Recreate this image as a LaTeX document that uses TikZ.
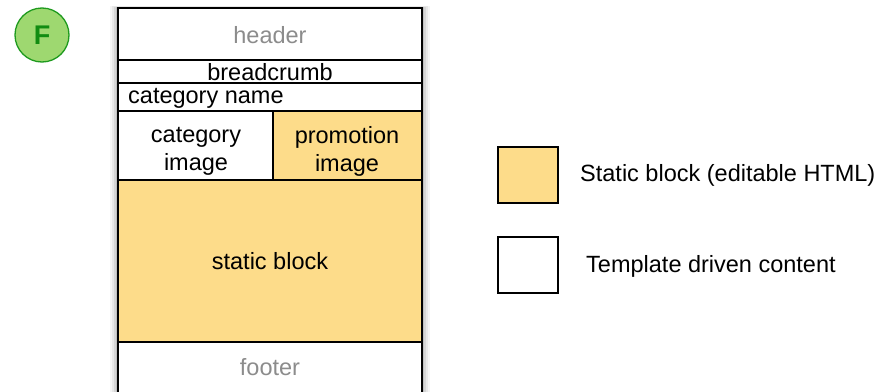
\documentclass[tikz,border=0pt]{standalone}
\usepackage{fontspec}
\setmainfont{Liberation Sans}
\definecolor{staticfill}{HTML}{FDDC8A}
\definecolor{graytext}{HTML}{8C8C8C}
\definecolor{badgefill}{HTML}{9ED870}
\definecolor{badgeline}{HTML}{1E9A1E}
\definecolor{badgetext}{HTML}{128C12}
\begin{document}
\begin{tikzpicture}[x=1pt,y=-1pt,
  box/.style={draw=black, line width=1.6pt, anchor=north west, inner sep=0pt, outer sep=0pt},
  tmpl/.style={box, fill=white},
  stat/.style={box, fill=staticfill},
  lbl/.style={font=\fontsize{23.5}{28}\selectfont, inner sep=0pt, align=center},
  legbox/.style={draw=black, line width=1.6pt, minimum width=60pt, minimum height=56pt, anchor=north west, inner sep=0pt}]
\useasboundingbox (0,0) rectangle (885,391);
% soft shadow of the page frame
\foreach \s/\o in {8/0.04,6/0.06,4/0.08,2/0.10}{
  \fill[black, opacity=\o] (118-\s,8-\s*0.3) rectangle (422+\s,400);
}
\node[tmpl, minimum width=304pt, minimum height=52pt] (header) at (118,8) {};
\node[lbl, text=graytext] (headertxt) at (270,35) {header};
\node[tmpl, minimum width=304pt, minimum height=23pt] (crumb) at (118,60) {};
\node[lbl] (crumbtxt) at (270,72) {breadcrumb};
\node[tmpl, minimum width=304pt, minimum height=28pt] (catname) at (118,83) {};
\node[lbl, anchor=west] (catnametxt) at (128,98) {category name};
\node[tmpl, minimum width=155pt, minimum height=69pt] (catimg) at (118,111) {};
\node[lbl] (catimgtxt) at (196,151.5) {category\\image};
\node[stat, minimum width=149pt, minimum height=69pt] (promo) at (273,111) {};
\node[lbl] (promotxt) at (347,151.5) {promotion\\image};
\node[stat, minimum width=304pt, minimum height=162pt] (static) at (118,180) {};
\node[lbl] (statictxt) at (270,261) {static block};
\node[tmpl, minimum width=304pt, minimum height=60pt] (footer) at (118,342) {};
\node[lbl, text=graytext] (footertxt) at (270,367) {footer};
% badge
\node[circle, draw=badgeline, fill=badgefill, line width=1.3pt, minimum size=54pt, inner sep=0pt,
      text=badgetext, font=\bfseries\fontsize{27}{27}\selectfont] (badge) at (42,35) {F};
% legend
\node[legbox, fill=staticfill] (legstatic) at (497,146) {};
\node[lbl, anchor=west] (legstatictxt) at (580,175) {Static block (editable HTML)};
\node[legbox, fill=white] (legtmpl) at (497,236) {};
\node[lbl, anchor=west] (legtmpltxt) at (586,266) {Template driven content};
\end{tikzpicture}
\end{document}
